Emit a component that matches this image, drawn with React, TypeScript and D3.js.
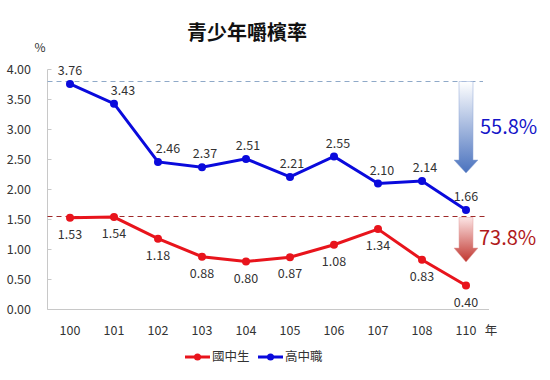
import React from "react";
import * as d3 from "d3";

const categories = ["100", "101", "102", "103", "104", "105", "106", "107", "108", "110"];
const juniorHigh = [1.53, 1.54, 1.18, 0.88, 0.8, 0.87, 1.08, 1.34, 0.83, 0.4];
const seniorHigh = [3.76, 3.43, 2.46, 2.37, 2.51, 2.21, 2.55, 2.1, 2.14, 1.66];
const yTicks = [0, 0.5, 1, 1.5, 2, 2.5, 3, 3.5, 4];
const seriesNames = ["國中生", "高中職"];
const refSenior = 3.8;
const refJunior = 1.55;
const dropSenior = "55.8%";
const dropJunior = "73.8%";
const title = "青少年嚼檳率";

// horizontal nudges for the senior-high data labels (pixels)
const seniorLabelNudge = [0, 9, 10, 3, 2, 2, 4, 4, 3, 0];

const W = 550;
const H = 380;
const FONT = "'Noto Sans CJK TC', 'Noto Sans', sans-serif";

export default function App() {
  const x = d3.scalePoint<string>().domain(categories).range([70, 466]);
  const y = d3.scaleLinear().domain([0, 4]).range([309.5, 69.5]);
  const axisLeft = 47.5;
  const axisRight = 489;
  const line = d3
    .line<number>()
    .x((_, i) => x(categories[i])!)
    .y((d) => y(d));

  const red = "#E8141C";
  const blue = "#0A0ADC";

  const arrowX = 466;
  const arrow = (top: number, headStart: number, tip: number) => {
    const bw = 7;
    const hw = 12;
    return `M${arrowX - bw},${top} L${arrowX + bw},${top} L${arrowX + bw},${headStart} L${arrowX + hw},${headStart} L${arrowX},${tip} L${arrowX - hw},${headStart} L${arrowX - bw},${headStart} Z`;
  };

  return (
    <svg width={W} height={H} style={{ position: "absolute", left: 0, top: 0, fontFamily: FONT }}>
      <defs>
        <linearGradient id="gBlue" x1="0" y1="0" x2="0" y2="1">
          <stop offset="0" stopColor="#FFFFFF" />
          <stop offset="1" stopColor="#4A72BE" />
        </linearGradient>
        <linearGradient id="gRed" x1="0" y1="0" x2="0" y2="1">
          <stop offset="0" stopColor="#FCE4E4" />
          <stop offset="1" stopColor="#C0352E" />
        </linearGradient>
      </defs>
      <rect width={W} height={H} fill="#fff" />
      <text x={247} y={40} textAnchor="middle" fontSize={20} fontWeight="bold" fill="#111">
        {title}
      </text>
      <text x={40} y={52} textAnchor="middle" fontSize={12} fill="#333">%</text>

      {/* axes */}
      <line x1={axisLeft} x2={axisLeft} y1={y(4)} y2={y(0)} stroke="#C8C8C8" />
      <line x1={axisLeft} x2={axisRight} y1={y(0)} y2={y(0)} stroke="#C8C8C8" />
      {yTicks.map((t) => (
        <g key={t}>
          <line x1={axisLeft} x2={axisLeft + 4} y1={y(t)} y2={y(t)} stroke="#C8C8C8" />
          <text x={31} y={y(t)} dy="0.35em" textAnchor="end" fontSize={12.5} fill="#333">
            {t.toFixed(2)}
          </text>
        </g>
      ))}
      {categories.map((c) => (
        <text key={c} x={x(c)} y={335} textAnchor="middle" fontSize={12.5} fill="#333">
          {c}
        </text>
      ))}
      <text x={491} y={335} textAnchor="middle" fontSize={12.5} fill="#333">年</text>

      {/* reference lines */}
      <line x1={axisLeft} x2={483} y1={y(refSenior)} y2={y(refSenior)} stroke="#8FA9C8" strokeDasharray="5,4" strokeWidth={1.2} />
      <line x1={axisLeft} x2={488} y1={y(refJunior)} y2={y(refJunior)} stroke="#9E2A2A" strokeDasharray="5,4" strokeWidth={1.2} />

      {/* arrows */}
      <path d={arrow(y(refSenior), 160, 173)} fill="url(#gBlue)" stroke="#8EA6D4" strokeWidth={0.5} />
      <path d={arrow(y(refJunior) + 1, 248, 262)} fill="url(#gRed)" stroke="#E0A0A0" strokeWidth={0.5} />
      <text x={480} y={134} fontSize={20} fill="#1515C8">{dropSenior}</text>
      <text x={479} y={245} fontSize={20} fill="#B01A1A">{dropJunior}</text>

      {/* lines */}
      <path d={line(seniorHigh)!} fill="none" stroke={blue} strokeWidth={3} />
      <path d={line(juniorHigh)!} fill="none" stroke={red} strokeWidth={3} />
      {seniorHigh.map((v, i) => (
        <g key={"s" + i}>
          <circle cx={x(categories[i])} cy={y(v)} r={4} fill={blue} />
          <text x={x(categories[i])! + seniorLabelNudge[i]} y={y(v) - 9} textAnchor="middle" fontSize={12.5} fill="#333">
            {v.toFixed(2)}
          </text>
        </g>
      ))}
      {juniorHigh.map((v, i) => (
        <g key={"j" + i}>
          <circle cx={x(categories[i])} cy={y(v)} r={4} fill={red} />
          <text x={x(categories[i])} y={y(v) + 21} textAnchor="middle" fontSize={12.5} fill="#333">
            {v.toFixed(2)}
          </text>
        </g>
      ))}

      {/* legend */}
      {seriesNames.map((n, i) => {
        const lx = 185 + i * 73;
        const c = i === 0 ? red : blue;
        return (
          <g key={n}>
            <line x1={lx} x2={lx + 25} y1={357} y2={357} stroke={c} strokeWidth={3} />
            <circle cx={lx + 12.5} cy={357} r={3.5} fill={c} />
            <text x={lx + 27} y={357} dy="0.35em" fontSize={12.5} fill="#333">{n}</text>
          </g>
        );
      })}
    </svg>
  );
}
